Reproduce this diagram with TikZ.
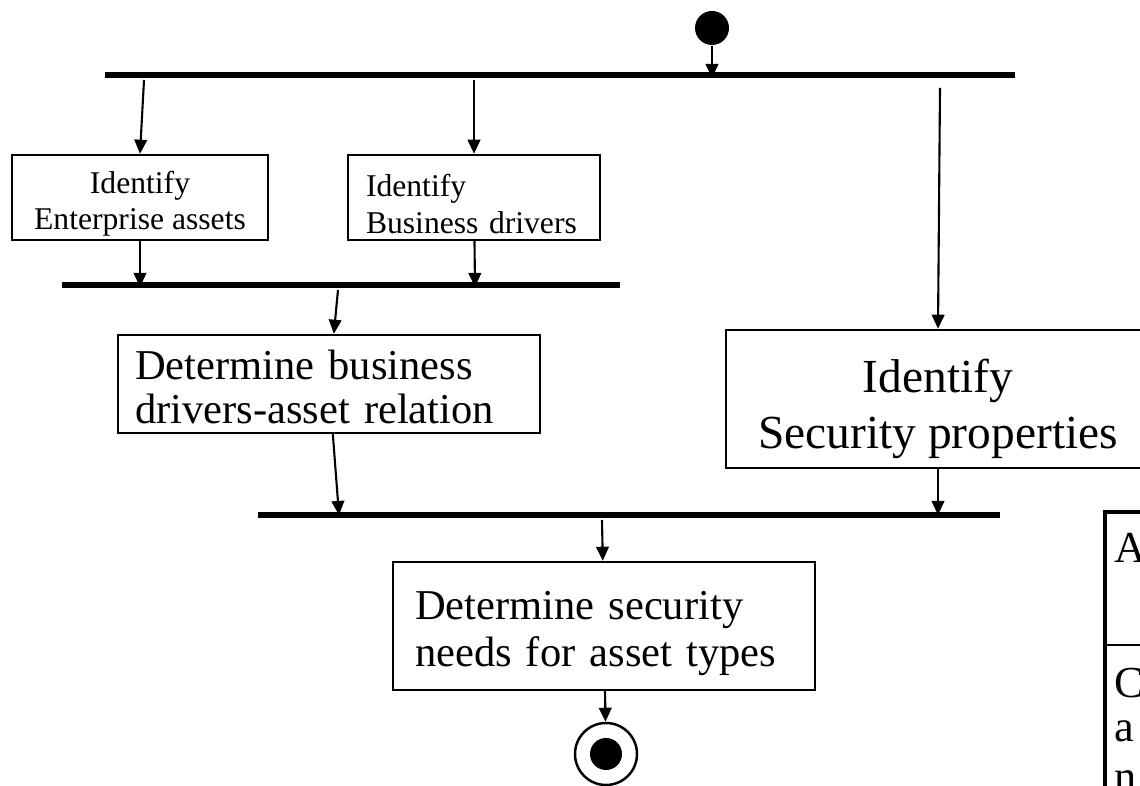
\documentclass[tikz,border=0pt]{standalone}
\usepackage{fontspec}
\setmainfont{Liberation Serif}
\usetikzlibrary{arrows.meta}

\begin{document}
\begin{tikzpicture}[
		act/.style={draw,line width=0.7pt,inner sep=0pt},
		bar/.style={line width=1.7pt},
		flow/.style={line width=0.6pt,-{Triangle[length=4pt,width=3.6pt]}},
		small/.style={font=\fontsize{9}{10.3}\selectfont},
		mid/.style={font=\fontsize{12.1}{12.4}\selectfont},
		midb/.style={font=\fontsize{12.1}{13.4}\selectfont},
		big/.style={font=\fontsize{13.5}{16}\selectfont},
		cut/.style={anchor=base west,inner sep=0pt,font=\fontsize{12.6}{14}\selectfont}
	]
		\clip (0,0) rectangle (11.4,-7.86);
		\node[circle,fill,inner sep=0pt,minimum size=0.34cm] (start) at (7.12,-0.28) {};
		\draw[bar] (1.05,-0.75)--(10.15,-0.75);
		\draw[bar] (0.62,-2.85)--(6.20,-2.85);
		\draw[bar] (2.58,-5.15)--(10.00,-5.15);
		\node[act,small,align=center,minimum width=2.56cm,minimum height=0.85cm] (ent) at (1.40,-1.975) {\rule{0pt}{10pt}Identify\\Enterprise assets};
		\node[act,small,align=left,text width=2.16cm,minimum width=2.52cm,minimum height=0.85cm] (drv) at (4.74,-1.975) {\rule{0pt}{10pt}Identify\\Business drivers};
		\node[act,mid,align=left,text width=3.88cm,minimum width=4.22cm,minimum height=0.98cm] (rel) at (3.29,-3.84) {\rule{0pt}{10pt}Determine business\\drivers-asset relation};
		\node[act,big,align=center,minimum width=4.24cm,minimum height=1.38cm] (sec) at (9.38,-3.99) {\rule{0pt}{15pt}Identify\\Security properties};
		\node[act,midb,align=left,text width=3.78cm,minimum width=4.22cm,minimum height=1.28cm] (need) at (6.04,-6.26) {\rule{0pt}{12.5pt}Determine security\\needs for asset types};
		\node[circle,draw,line width=0.7pt,inner sep=0pt,minimum size=0.62cm] (end) at (6.06,-7.54) {};
		\fill (end) circle(0.16);
		\coordinate (s0) at (7.12,-0.78);
		\coordinate (t1) at (1.44,-0.80);
		\coordinate (t2) at (4.74,-0.80);
		\coordinate (t3) at (9.40,-0.88);
		\coordinate (m1) at (1.40,-2.87);
		\coordinate (m2) at (4.75,-2.87);
		\coordinate (m3) at (3.38,-2.90);
		\coordinate (b1) at (3.39,-5.15);
		\coordinate (b2) at (9.38,-5.15);
		\coordinate (b3) at (6.02,-5.20);
		\draw[flow] (start)--(s0);
		\draw[flow] (t1)--(ent.north);
		\draw[flow] (t2)--(drv.north);
		\draw[flow] (t3)--(sec.north);
		\draw[flow] (ent)--(m1);
		\draw[flow] (drv)--(m2);
		\draw[flow] (m3)--(rel);
		\draw[flow] (rel)--(b1);
		\draw[flow] (sec)--(b2);
		\draw[flow] (b3)--(need);
		\draw[flow] (need)--(end);
		\draw[line width=1.4pt] (11.05,-7.9)--(11.05,-5.12)--(11.5,-5.12);
		\draw[line width=0.7pt] (11.05,-6.45)--(11.5,-6.45);
		\node[cut] (ahead) at (11.14,-5.63) {A};
		\node[cut] (c1) at (11.14,-6.98) {C};
		\node[cut] (c2) at (11.14,-7.42) {a};
		\node[cut] (c3) at (11.14,-7.92) {n};
	\end{tikzpicture}
\end{document}
